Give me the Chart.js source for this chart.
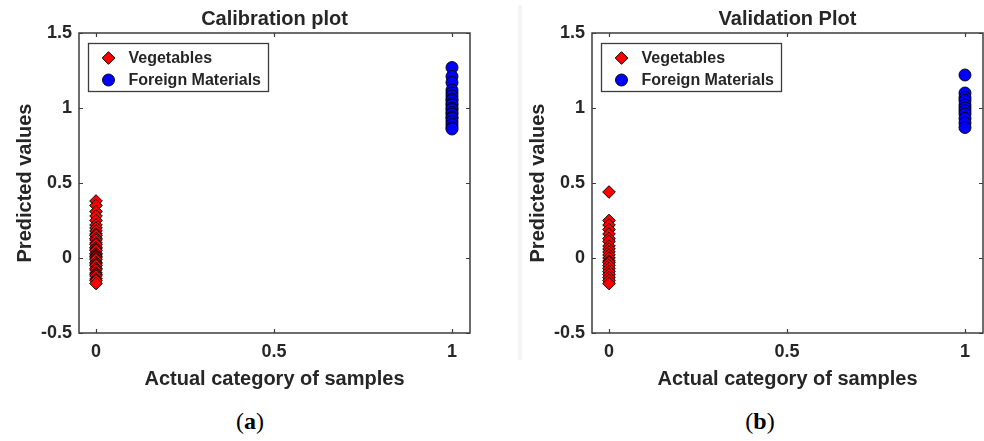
<!DOCTYPE html>
<html><head><meta charset="utf-8">
<script src="https://cdn.jsdelivr.net/npm/chart.js@4.4.1/dist/chart.umd.min.js"></script>
<style>
html,body{margin:0;padding:0;background:#fff;overflow:hidden;width:984px;height:441px;}
.wrap{position:absolute;top:0;width:500px;height:400px;}
.cap{position:absolute;top:406px;font-family:"Liberation Serif","DejaVu Serif",serif;font-size:24px;color:#000;width:60px;text-align:center;line-height:30px;}
.sep{position:absolute;left:517px;top:5px;width:6px;height:355px;background:linear-gradient(to right,#fff,#f1f1f1,#fff);}
</style></head>
<body>
<div class="sep"></div>
<div class="wrap" style="left:0"><canvas id="c1" width="500" height="400"></canvas></div>
<div class="wrap" style="left:513px"><canvas id="c2" width="500" height="400"></canvas></div>
<div class="cap" style="left:220px">(<b>a</b>)</div>
<div class="cap" style="left:730px">(<b>b</b>)</div>
<script>
// ---- data ----
const classValues = [0, 1];                // actual category: vegetables = 0, foreign materials = 1
const seriesNames = ['Vegetables', 'Foreign Materials'];
const xTicks = [0, 0.5, 1];
const yTicks = [-0.5, 0, 0.5, 1, 1.5];
const plotTitles = ['Calibration plot', 'Validation Plot'];

const calVegetables = [0.38, 0.35, 0.31, 0.28, 0.25, 0.22, 0.20, 0.18, 0.16, 0.15, 0.13, 0.12, 0.10, 0.09, 0.07, 0.06, 0.05, 0.03, 0.02, 0.01, 0.00, -0.01, -0.03, -0.04, -0.05, -0.07, -0.08, -0.10, -0.11, -0.12, -0.14, -0.15, -0.17];
const calForeign    = [1.27, 1.21, 1.17, 1.12, 1.10, 1.08, 1.06, 1.05, 1.03, 1.02, 1.00, 0.99, 0.97, 0.96, 0.94, 0.93, 0.91, 0.89, 0.87, 0.86];
const valVegetables = [0.44, 0.25, 0.22, 0.19, 0.16, 0.13, 0.11, 0.08, 0.06, 0.04, 0.02, 0.00, -0.02, -0.03, -0.05, -0.07, -0.09, -0.11, -0.13, -0.15, -0.17];
const valForeign    = [1.22, 1.10, 1.07, 1.05, 1.02, 1.00, 0.98, 0.96, 0.93, 0.90, 0.87];

const FONT = '"Liberation Sans", Arial, Helvetica, sans-serif';
const TXT = '#262626';
const EDGE = '#3c3c3c';

const toPoints = (x, ys) => ys.map(y => ({x: x, y: y}));

const boxPlugin = {
  id: 'matlabBox',
  beforeDatasetsDraw(chart) {
    const ctx = chart.ctx, a = chart.chartArea;
    const xs = chart.scales.x, ys = chart.scales.y;
    ctx.save();
    ctx.strokeStyle = EDGE;
    ctx.lineWidth = 1.5;
    ctx.strokeRect(a.left, a.top, a.right - a.left, a.bottom - a.top);
    ctx.lineWidth = 1.2;
    ctx.beginPath();
    xTicks.forEach(v => {
      const px = Math.round(xs.getPixelForValue(v)) + 0.5;
      ctx.moveTo(px, a.bottom); ctx.lineTo(px, a.bottom - 4);
      ctx.moveTo(px, a.top); ctx.lineTo(px, a.top + 4);
    });
    yTicks.forEach(v => {
      const py = Math.round(ys.getPixelForValue(v)) + 0.5;
      ctx.moveTo(a.left, py); ctx.lineTo(a.left + 4, py);
      ctx.moveTo(a.right, py); ctx.lineTo(a.right - 4, py);
    });
    ctx.stroke();
    ctx.restore();
  },
  afterDatasetsDraw(chart) {
    const ctx = chart.ctx, a = chart.chartArea;
    const bx = a.left + 9.5, by = a.top + 10.5, bw = 180, bh = 48;
    ctx.save();
    ctx.fillStyle = '#fff';
    ctx.fillRect(bx, by, bw, bh);
    ctx.strokeStyle = EDGE;
    ctx.lineWidth = 1.3;
    ctx.strokeRect(bx, by, bw, bh);
    chart.data.datasets.forEach((ds, i) => {
      const cy = by + 14.5 + i * 22;
      ctx.fillStyle = ds.backgroundColor;
      ctx.strokeStyle = ds.borderColor;
      ctx.lineWidth = ds.borderWidth;
      Chart.helpers.drawPoint(ctx, {pointStyle: ds.pointStyle, radius: ds.pointRadius, rotation: 0, borderWidth: ds.borderWidth}, bx + 20, cy);
      ctx.fillStyle = TXT;
      ctx.font = 'bold 16px ' + FONT;
      ctx.textBaseline = 'middle';
      ctx.textAlign = 'left';
      ctx.fillText(ds.label, bx + 40, cy + 1);
    });
    ctx.restore();
  }
};

function makeChart(id, title, vegY, forY) {
  return new Chart(document.getElementById(id), {
    type: 'scatter',
    data: {
      datasets: [
        {label: seriesNames[0], data: toPoints(classValues[0], vegY), pointStyle: 'rectRot', pointRadius: 6.3, pointHoverRadius: 6.3,
         backgroundColor: '#ff0000', borderColor: '#000000', borderWidth: 1},
        {label: seriesNames[1], data: toPoints(classValues[1], forY), pointStyle: 'circle', pointRadius: 6, pointHoverRadius: 6,
         backgroundColor: '#0000ff', borderColor: '#000000', borderWidth: 0.9}
      ]
    },
    options: {
      responsive: false,
      animation: false,
      layout: {padding: {left: 0, right: 30, top: 0, bottom: 0}},
      plugins: {
        legend: {display: false},
        tooltip: {enabled: false},
        title: {display: true, fullSize: false, text: title, color: TXT, font: {family: FONT, size: 20, weight: 'bold'}, padding: {top: 7, bottom: 2}}
      },
      scales: {
        x: {
          type: 'linear', min: -0.0478, max: 1.0506,
          afterBuildTicks: s => { s.ticks = xTicks.map(v => ({value: v})); },
          afterFit: s => { s.height = 67; },
          grid: {display: false, drawTicks: false},
          border: {display: false},
          ticks: {color: TXT, padding: 8, autoSkip: false, maxRotation: 0, font: {family: FONT, size: 18, weight: 'bold'}, callback: v => String(v)},
          title: {display: true, text: 'Actual category of samples', color: TXT, font: {family: FONT, size: 20, weight: 'bold'}, padding: {top: 0, bottom: 9}}
        },
        y: {
          type: 'linear', min: -0.5, max: 1.5,
          afterBuildTicks: s => { s.ticks = yTicks.map(v => ({value: v})); },
          afterFit: s => { s.width = 79; },
          grid: {display: false, drawTicks: false},
          border: {display: false},
          ticks: {color: TXT, padding: 7, autoSkip: false, font: {family: FONT, size: 18, weight: 'bold'}, callback: v => String(v)},
          title: {display: true, text: 'Predicted values', color: TXT, font: {family: FONT, size: 20, weight: 'bold'}, padding: {top: 13, bottom: 0}}
        }
      }
    },
    plugins: [boxPlugin]
  });
}

makeChart('c1', plotTitles[0], calVegetables, calForeign);
makeChart('c2', plotTitles[1], valVegetables, valForeign);
</script>
</body></html>
